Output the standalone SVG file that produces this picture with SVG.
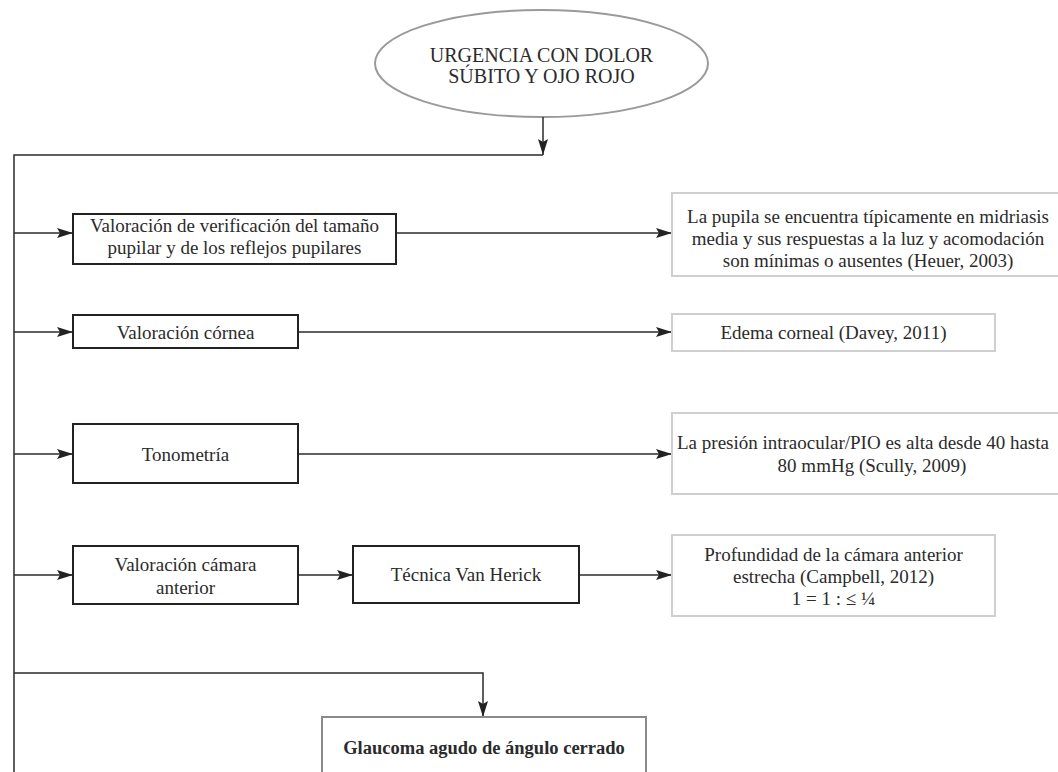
<svg xmlns="http://www.w3.org/2000/svg" width="1058" height="772" viewBox="0 0 1058 772">
<style>
text{font-family:"Liberation Serif","Times New Roman",serif;font-size:19px;fill:#2b2b2b;text-anchor:middle}
.main{fill:#fff;stroke:#222;stroke-width:2}
.res{fill:#fff;stroke:#cfcfcf;stroke-width:2}
.final{fill:#fff;stroke:#8a8a8a;stroke-width:2}
.conn line,.conn polyline{stroke:#2b2b2b;stroke-width:1.5;fill:none}
.b{font-weight:bold;font-size:18.5px}
.big{font-size:20px}
</style>
<defs>
<marker id="ah" markerWidth="16" markerHeight="10" refX="16" refY="5" orient="auto" markerUnits="userSpaceOnUse">
<path d="M0,0 L16,5 L0,10 L3,5 z" fill="#222"/>
</marker>
</defs>
<g id="start">
<ellipse cx="541.5" cy="63.5" rx="166.5" ry="53.5" fill="#fff" stroke="#9a9a9a" stroke-width="2"/>
<text class="big" x="541.5" y="62">URGENCIA CON DOLOR</text>
<text class="big" x="541.5" y="83">SÚBITO Y OJO ROJO</text>
</g>
<g class="conn" id="connectors">
<line x1="543" y1="117" x2="543" y2="155" marker-end="url(#ah)"/>
<polyline points="543,155 14,155 14,772"/>
<line x1="14" y1="233" x2="73" y2="233" marker-end="url(#ah)"/>
<line x1="14" y1="332" x2="73" y2="332" marker-end="url(#ah)"/>
<line x1="14" y1="454" x2="73" y2="454" marker-end="url(#ah)"/>
<line x1="14" y1="575" x2="73" y2="575" marker-end="url(#ah)"/>
<line x1="396" y1="233" x2="672" y2="233" marker-end="url(#ah)"/>
<line x1="298" y1="332" x2="672" y2="332" marker-end="url(#ah)"/>
<line x1="298" y1="454" x2="672" y2="454" marker-end="url(#ah)"/>
<line x1="298" y1="575" x2="353" y2="575" marker-end="url(#ah)"/>
<line x1="579" y1="575" x2="672" y2="575" marker-end="url(#ah)"/>
<polyline points="14,673 483,673 483,717" marker-end="url(#ah)"/>
</g>
<g id="pupila">
<rect class="main" x="73" y="214" width="323" height="50"/>
<text x="234.5" y="232">Valoración de verificación del tamaño</text>
<text x="234.5" y="254">pupilar y de los reflejos pupilares</text>
</g>
<g id="pupila-res">
<rect class="res" x="672" y="193" width="392" height="83"/>
<text x="868" y="223">La pupila se encuentra típicamente en midriasis</text>
<text x="868" y="245">media y sus respuestas a la luz y acomodación</text>
<text x="868" y="267">son mínimas o ausentes (Heuer, 2003)</text>
</g>
<g id="cornea">
<rect class="main" x="73" y="315" width="225" height="33"/>
<text x="185.5" y="339">Valoración córnea</text>
</g>
<g id="cornea-res">
<rect class="res" x="672" y="314" width="323" height="37"/>
<text x="833.5" y="339">Edema corneal (Davey, 2011)</text>
</g>
<g id="tono">
<rect class="main" x="73" y="424" width="225" height="59"/>
<text x="185.5" y="461">Tonometría</text>
</g>
<g id="tono-res">
<rect class="res" x="672" y="413" width="416" height="81"/>
<text x="863" y="449">La presión intraocular/PIO es alta desde 40 hasta</text>
<text x="872" y="472">80 mmHg (Scully, 2009)</text>
</g>
<g id="camara">
<rect class="main" x="73" y="546" width="225" height="58"/>
<text x="185.5" y="571">Valoración cámara</text>
<text x="185.5" y="594">anterior</text>
</g>
<g id="vanherick">
<rect class="main" x="353" y="546" width="226" height="57"/>
<text x="466" y="581">Técnica Van Herick</text>
</g>
<g id="camara-res">
<rect class="res" x="672" y="535" width="323" height="81"/>
<text x="833.5" y="561">Profundidad de la cámara anterior</text>
<text x="833.5" y="583">estrecha (Campbell, 2012)</text>
<text x="833.5" y="605">1 = 1 : ≤ ¼</text>
</g>
<g id="glaucoma">
<rect class="final" x="322" y="717" width="324" height="70"/>
<text class="b" x="484" y="754">Glaucoma agudo de ángulo cerrado</text>
</g>
</svg>
